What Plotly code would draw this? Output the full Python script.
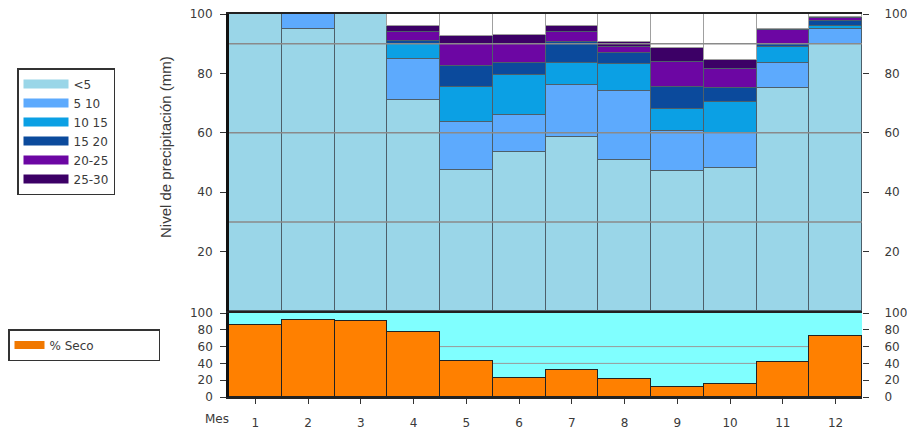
import plotly.graph_objects as go

months = list(range(1, 13))
month_labels = [str(m) for m in months]

# Percentage of days per precipitation class (mm)
class_names = ["<5", "5 10", "10 15", "15 20", "20-25", "25-30"]
lt5   = [100, 95, 100, 71, 47.5, 53.5, 58.5, 51, 47, 48, 75, 90]
p5_10 = [0, 5, 0, 14, 16, 12.5, 17.5, 23, 13.5, 12, 8.5, 5]
p10_15 = [0, 0, 0, 5, 12, 13.5, 7.5, 9, 7.5, 10.5, 5.5, 1]
p15_20 = [0, 0, 0, 1, 7, 4, 7, 4, 7.5, 4.5, 1, 1.5]
p20_25 = [0, 0, 0, 3, 7.5, 6.5, 3.5, 2, 8.5, 6.5, 4.5, 1]
p25_30 = [0, 0, 0, 2, 2.5, 3, 2, 1.5, 4.5, 3, 0.5, 0.5]

seco = [86, 92, 90.5, 77.5, 43, 23, 32, 21.5, 11.5, 15.5, 42, 73]

top_ticks = [20, 40, 60, 80, 100]
bottom_ticks = [0, 20, 40, 60, 80, 100]

colors = ["#9AD6E8", "#5DAAFD", "#0BA0E4", "#0B4A9C", "#6C06A3", "#3C0066"]
series = [lt5, p5_10, p10_15, p15_20, p20_25, p25_30]

font_family = "DejaVu Sans, Liberation Sans, Arial, sans-serif"
title_family = "Liberation Sans, Arial, sans-serif"
txt = "#3a3a3a"

# page body has an 8px margin: figure is 907x421 placed at (8, 8)
W, H, OFF = 907, 421, 8
def cx(X):
    return (X - OFF) / W
def cy(Y):
    return 1 - (Y - OFF) / H
PL, PR, PT, PB = 229, 862, 14, 397  # plot area in window pixels
def px(X):
    return (X - PL) / (PR - PL)
def py(Y):
    return (PB - Y) / (PB - PT)

fig = go.Figure()

for name, vals, col in zip(class_names, series, colors):
    fig.add_trace(go.Bar(x=months, y=vals, name=name, marker_color=col,
                         marker_line_color="#4d5f6a", marker_line_width=1,
                         xaxis="x", yaxis="y", showlegend=False))
    fig.add_trace(go.Scatter(x=[None], y=[None], mode="lines", name=name,
                             line=dict(color=col, width=9), legend="legend",
                             xaxis="x", yaxis="y"))

remainder = [max(0, 100 - sum(v)) for v in zip(*series)]
fig.add_trace(go.Bar(x=months, y=remainder, marker_color="white",
                     marker_line_color="#a0a0a0", marker_line_width=1,
                     xaxis="x", yaxis="y", showlegend=False, hoverinfo="skip"))

fig.add_trace(go.Bar(x=months, y=seco, name="% Seco", marker_color="#FF8000",
                     marker_line_color="#222222", marker_line_width=1.5,
                     xaxis="x2", yaxis="y2", showlegend=False))
fig.add_trace(go.Scatter(x=[None], y=[None], mode="lines", name="% Seco",
                         line=dict(color="#F07800", width=8), legend="legend2",
                         xaxis="x2", yaxis="y2"))

# helper traces for right-hand axes
fig.add_trace(go.Scatter(x=[None], y=[None], xaxis="x", yaxis="y3", showlegend=False))
fig.add_trace(go.Scatter(x=[None], y=[None], xaxis="x2", yaxis="y4", showlegend=False))

shapes = [dict(type="rect", xref="x2 domain", yref="y2 domain", x0=0, x1=1, y0=0, y1=1,
               fillcolor="#80FFFF", line_width=0, layer="below")]
for g in [30, 60, 90]:
    shapes.append(dict(type="line", xref="x domain", yref="y", x0=0, x1=1, y0=g, y1=g,
                       line=dict(color="#8a8a8a", width=1.5), layer="above"))
for g in [40, 60]:
    shapes.append(dict(type="line", xref="x2 domain", yref="y2", x0=0, x1=1, y0=g, y1=g,
                       line=dict(color="#9a9a9a", width=1), layer="below"))

tick_font = dict(family=font_family, size=12, color=txt)

left_y = dict(ticks="outside", ticklen=6, tickcolor="#333", showgrid=False,
              zeroline=False, ticklabelstandoff=5, tickfont=tick_font,
              ticklabeloverflow="allow")
right_y = dict(ticks="outside", ticklen=6, tickcolor="#333", showgrid=False,
               zeroline=False, ticklabelstandoff=13, tickfont=tick_font, showline=False,
               ticklabeloverflow="allow")

fig.update_layout(
    width=W, height=H,
    margin=dict(l=PL - OFF, r=(OFF + W) - PR, t=PT - OFF, b=(OFF + H) - PB, autoexpand=False),
    paper_bgcolor="white", plot_bgcolor="white",
    barmode="stack", bargap=0,
    font=dict(family=font_family, color=txt),
    shapes=shapes,
    xaxis=dict(domain=[0, 1], range=[0.5, 12.5], showticklabels=False, ticks="",
               showgrid=False, zeroline=False, showline=True, linecolor="#222222",
               linewidth=2, mirror=True, anchor="y"),
    yaxis=dict(domain=[py(311), 1], range=[0, 100], tickvals=top_ticks,
               showline=True, linecolor="#111111", linewidth=3, anchor="x", **left_y),
    yaxis3=dict(range=[0, 100], tickvals=top_ticks, overlaying="y", side="right",
                anchor="x", **right_y),
    xaxis2=dict(domain=[0, 1], range=[0.5, 12.5], tickvals=months, ticktext=month_labels,
                ticks="outside", ticklen=5, tickcolor="#333", tickfont=tick_font,
                ticklabelstandoff=9,
                showgrid=False, zeroline=False, showline=True, linecolor="#222222",
                linewidth=2, mirror=True, anchor="y2"),
    yaxis2=dict(domain=[0, py(313)], range=[0, 100], tickvals=bottom_ticks,
                showline=True, linecolor="#111111", linewidth=2.5, anchor="x2", **left_y),
    yaxis4=dict(range=[0, 100], tickvals=bottom_ticks, overlaying="y2", side="right",
                anchor="x2", **right_y),
    legend=dict(xref="container", yref="container", x=cx(17), y=cy(68),
                xanchor="left", yanchor="top", itemwidth=45,
                bordercolor="#333333", borderwidth=1.5, bgcolor="white",
                font=dict(family=font_family, size=12, color=txt),
                traceorder="normal", itemclick=False),
    legend2=dict(xref="container", yref="container", x=cx(7), y=cy(329),
                 xanchor="left", yanchor="top", orientation="h",
                 bordercolor="#333333", borderwidth=1.5, bgcolor="white",
                 font=dict(family=font_family, size=12, color=txt),
                 itemclick=False, entrywidth=104),
    annotations=[
        dict(text="Mes", xref="paper", yref="paper", x=px(217), y=py(419),
             xanchor="center", yanchor="middle", showarrow=False,
             font=dict(family=font_family, size=12, color=txt)),
        dict(text="Nivel de precipitación (mm)", xref="paper", yref="paper",
             x=px(166), y=py(147), textangle=-90,
             xanchor="center", yanchor="middle", showarrow=False,
             font=dict(family=title_family, size=15, color=txt)),
    ],
)

fig.write_html("out.html")
